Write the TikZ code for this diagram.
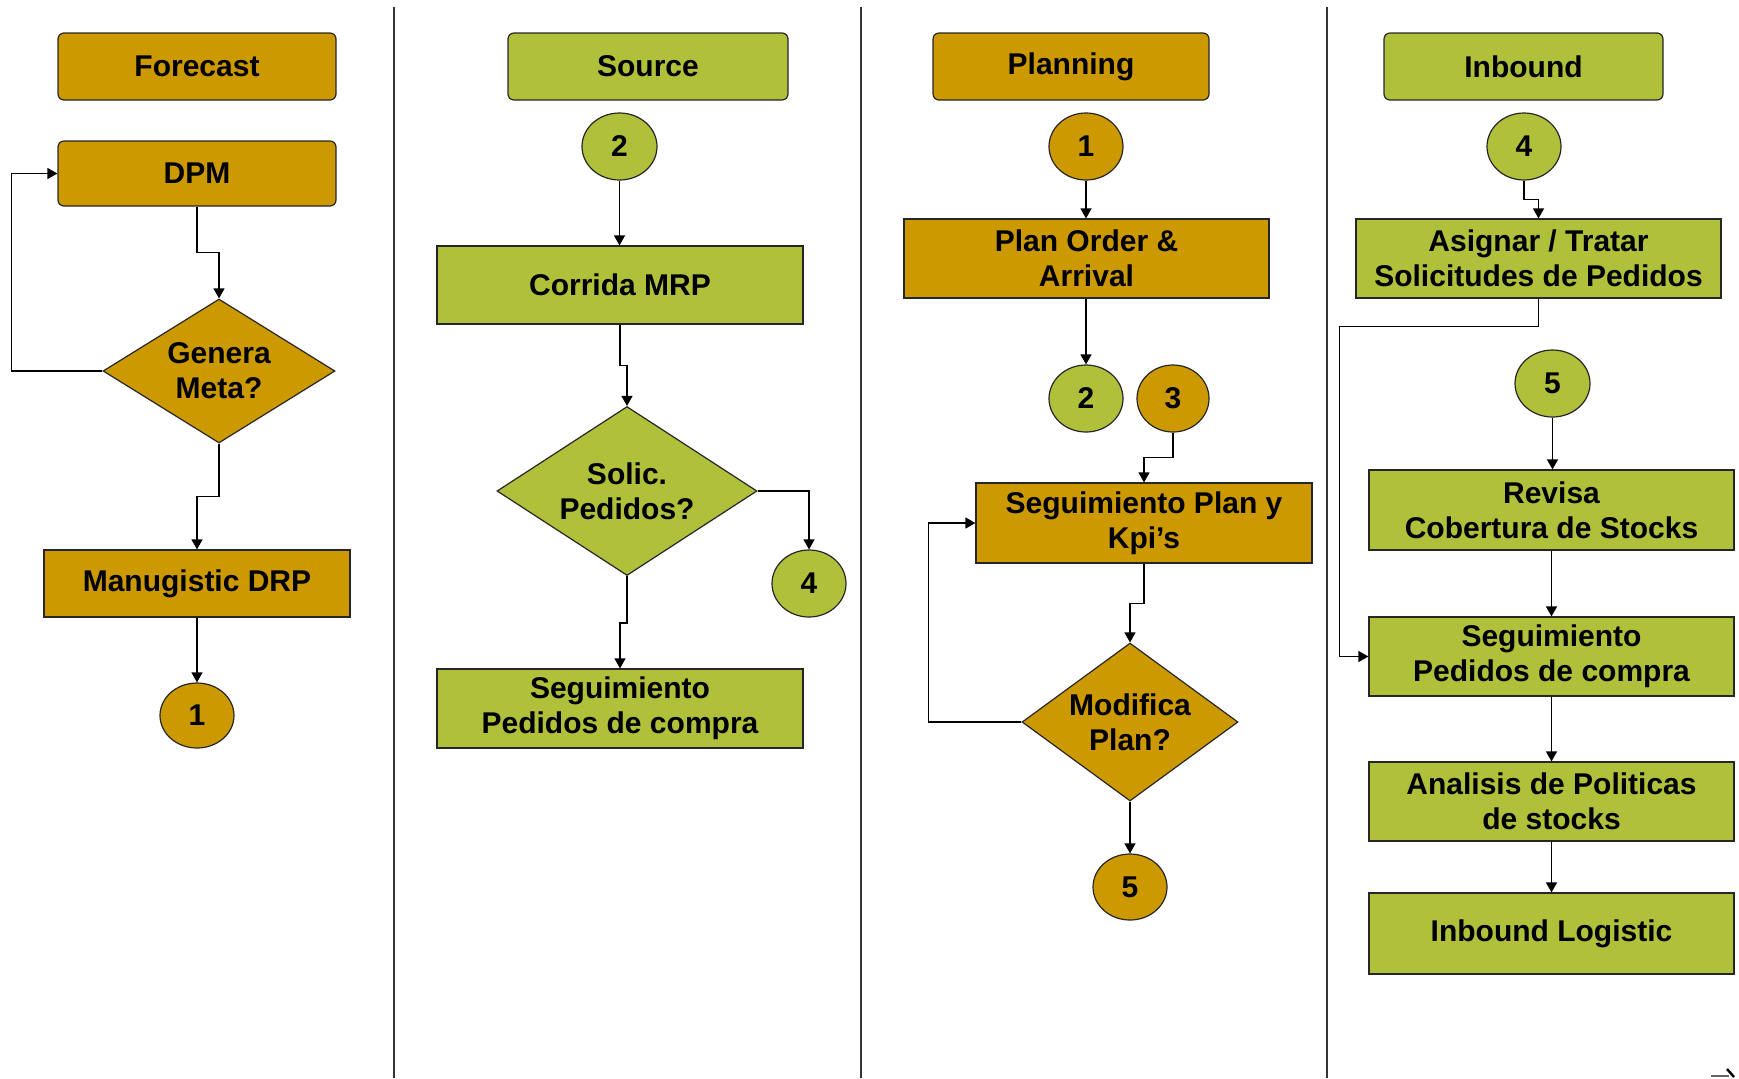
\documentclass[tikz,border=0pt]{standalone}
\usepackage{fontspec}
\setmainfont{Liberation Sans}
\usetikzlibrary{shapes.geometric,arrows.meta,calc}
\definecolor{gold}{RGB}{204,153,0}
\definecolor{leaf}{RGB}{176,192,58}
\begin{document}
\begin{tikzpicture}[x=0.5pt,y=-0.5pt,
  every node/.style={font=\bfseries\fontsize{15}{17.5}\selectfont, text=black},
  sz/.style 2 args={minimum width=#1*0.5pt, minimum height=#2*0.5pt},
  box/.style={draw=black!85, line width=0.6pt, rectangle, inner sep=0pt, align=center},
  head/.style={box, rounded corners=3pt},
  dec/.style={draw=black!85, line width=0.6pt, diamond, inner sep=0pt},
  conn/.style={draw=black!85, line width=0.6pt, ellipse, inner sep=0pt},
  lbl/.style={align=center, inner sep=0pt},
  arr/.style={draw=black, line width=0.65pt, -{Triangle[length=5pt,width=5.5pt]}},
  lane/.style={draw=black!80, line width=1pt},
]
\useasboundingbox (0,0) rectangle (1739,1078);
\clip (0,0) rectangle (1739,1078);

% lane separators
\coordinate (s1t) at (394,7);   \coordinate (s1b) at (394,1078);
\coordinate (s2t) at (861,7);   \coordinate (s2b) at (861,1078);
\coordinate (s3t) at (1327,7);  \coordinate (s3b) at (1327,1078);
\draw[lane] (s1t) -- (s1b);
\draw[lane] (s2t) -- (s2b);
\draw[lane] (s3t) -- (s3b);

% ---- Forecast lane ----
\node[head, fill=gold, sz={278}{67}] (hfc) at (197,66.5) {Forecast};
\node[head, fill=gold, sz={278}{65}] (dpm) at (197,173.5) {DPM};
\node[dec, fill=gold, sz={232}{144}] (d1) at (219,371) {};
\node[lbl] (d1t) at (d1) {Genera\\Meta?};
\node[box, fill=gold, sz={306}{67}] (drp) at (197,583.5) {Manugistic DRP};
\node[conn, fill=gold, sz={74}{65}] (c1) at (197,715.5) {1};

\draw[arr] (dpm.south) -- ++(0,46) -| (d1.north);
\draw[arr] (d1.west) -- ++(-91,0) |- (dpm.west);
\draw[arr] (d1.south) -- ++(0,53) -| (drp.north);
\draw[arr] (drp.south) -- (c1.north);

% ---- Source lane ----
\node[head, fill=leaf, sz={280}{67}] (hsrc) at (648,66.5) {Source};
\node[conn, fill=leaf, sz={75}{67}] (c2a) at (619.5,146.5) {2};
\node[box, fill=leaf, sz={366}{78}] (mrp) at (620,285) {Corrida MRP};
\node[dec, fill=leaf, sz={260}{169}] (d2) at (627,491) {};
\node[lbl] (d2t) at (d2) {Solic.\\Pedidos?};
\node[conn, fill=leaf, sz={74}{67}] (c4a) at (809,583.5) {4};
\node[box, fill=leaf, sz={366}{79}] (seg2) at (620,708.5) {Seguimiento\\Pedidos de compra};

\draw[arr] (c2a.south) -- (c2a.south |- mrp.north);
\draw[arr] (mrp.south) -- ++(0,41) -| (d2.north);
\draw[arr] (d2.east) -| (c4a.north);
\draw[arr] (d2.south) -- ++(0,47) -| (seg2.north);

% ---- Planning lane ----
\node[head, fill=gold, sz={276}{67}] (hpl) at (1071,66.5) {Planning};
\node[conn, fill=gold, sz={74}{67}] (c1b) at (1086,146.5) {1};
\node[box, fill=gold, sz={365}{79}] (plan) at (1086.5,258.5) {Plan Order \&\\Arrival};
\node[conn, fill=leaf, sz={74}{67}] (c2b) at (1086,398.5) {2};
\node[conn, fill=gold, sz={72}{67}] (c3) at (1173,398.5) {3};
\node[box, fill=gold, sz={336}{80}] (seg3) at (1144,523) {Seguimiento Plan y\\Kpi’s};
\node[dec, fill=gold, sz={216}{158}] (d3) at (1130,722) {};
\node[lbl] (d3t) at (d3) {Modifica\\Plan?};
\node[conn, fill=gold, sz={74}{66}] (c5a) at (1130,887) {5};

\draw[arr] (c1b.south) -- (c1b.south |- plan.north);
\draw[arr] (c2b.north |- plan.south) -- (c2b.north);
\draw[arr] (c3.south) -- ++(0,25) -| (seg3.north);
\draw[arr] (seg3.south) -- ++(0,40) -| (d3.north);
\draw[arr] (d3.west) -- ++(-93,0) |- (seg3.west);
\draw[arr] (d3.south) -- (c5a.north);

% ---- Inbound lane ----
\node[head, fill=leaf, sz={279}{67}] (hin) at (1523.5,66.5) {Inbound};
\node[conn, fill=leaf, sz={74}{67}] (c4b) at (1524,146.5) {4};
\node[box, fill=leaf, sz={365}{79}] (asig) at (1538.5,258.5) {Asignar / Tratar\\Solicitudes de Pedidos};
\node[conn, fill=leaf, sz={75}{67}] (c5b) at (1552.5,383.5) {5};
\node[box, fill=leaf, sz={365}{80}] (rev) at (1551.5,510) {Revisa\\Cobertura de Stocks};
\node[box, fill=leaf, sz={365}{79}] (seg4) at (1551.5,656.5) {Seguimiento\\Pedidos de compra};
\node[box, fill=leaf, sz={365}{79}] (anal) at (1551.5,801.5) {Analisis de Politicas\\de stocks};
\node[box, fill=leaf, sz={365}{81}] (inlog) at (1551.5,933.5) {Inbound Logistic};

\draw[arr] (c4b.south) -- ++(0,19) -| (asig.north);
\draw[arr] (asig.south) -- ++(0,28) -| ($(seg4.west)+(-29,0)$) -- (seg4.west);
\draw[arr] (c5b.south) -- (c5b.south |- rev.north);
\draw[arr] (rev.south) -- (seg4.north);
\draw[arr] (seg4.south) -- (anal.north);
\draw[arr] (anal.south) -- (inlog.north);

% cut-off connector at the lower right edge
\coordinate (tailA) at (1711,1076);
\coordinate (tailB) at (1729,1076);
\coordinate (tipA) at (1727,1069);
\coordinate (tipB) at (1734,1077);
\draw[black!60, line width=0.6pt] (tailA) -- (tailB);
\draw[black, line width=1.2pt] (tipA) -- (tipB);
\end{tikzpicture}
\end{document}
